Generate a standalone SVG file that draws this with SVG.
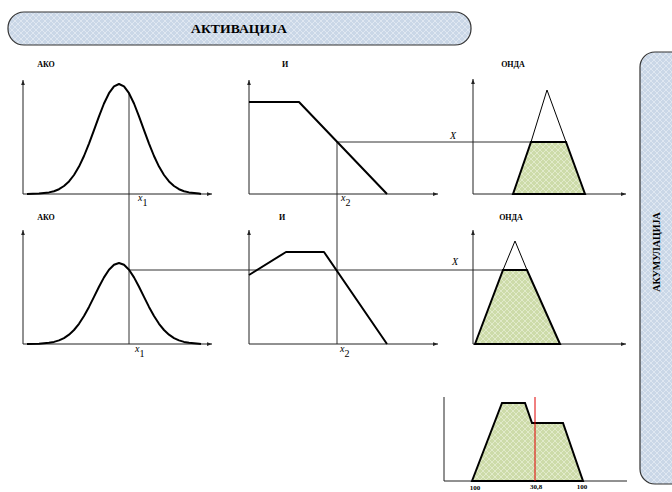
<svg xmlns="http://www.w3.org/2000/svg" width="672" height="492" viewBox="0 0 672 492">
<defs>
<pattern id="hb" width="6" height="6" patternUnits="userSpaceOnUse"><rect width="6" height="6" fill="#cad7e7"/><path d="M0,0 L6,6 M6,0 L0,6" stroke="#e4ebf4" stroke-width="0.8"/></pattern>
<pattern id="hg" width="6" height="6" patternUnits="userSpaceOnUse"><rect width="6" height="6" fill="#cddba9"/><path d="M0,0 L6,6 M6,0 L0,6" stroke="#e6eed3" stroke-width="0.8"/></pattern>
<marker id="ar" viewBox="0 0 8 6" refX="8" refY="3" markerWidth="5" markerHeight="4" orient="auto" markerUnits="userSpaceOnUse"><path d="M0,0 L8,3 L0,6 Z" fill="#222"/></marker>
</defs>
<style>
.ax{fill:none;stroke:#222;stroke-width:1;marker-end:url(#ar)}
.ax2{fill:none;stroke:#222;stroke-width:1}
.cv{fill:none;stroke:#000;stroke-width:2;stroke-linejoin:round}
.tri{fill:none;stroke:#000;stroke-width:1}
.trap{fill:url(#hg);stroke:#000;stroke-width:2;stroke-linejoin:miter}
.cn{fill:none;stroke:#333;stroke-width:1}
.ban{fill:url(#hb);stroke:#333;stroke-width:1.2}
.t{font-family:"Liberation Serif","Times New Roman",serif;font-weight:bold;fill:#000}
.lb{font-size:8px;text-anchor:middle}
.v{font-family:"Liberation Serif","Times New Roman",serif;font-style:italic;font-size:10px;fill:#000}
.s{font-style:normal}
</style>

<g id="activation">
<rect class="ban" x="8" y="12" width="463" height="33" rx="16"/>
<text class="t" x="239" y="33" font-size="11.5" text-anchor="middle" textLength="96" lengthAdjust="spacingAndGlyphs">АКТИВАЦИЈА</text>
</g>

<g id="accumulation">
<rect class="ban" x="640" y="52" width="50" height="432" rx="15"/>
<text class="t" x="656" y="252" font-size="10" text-anchor="middle" dy="0.35em" transform="rotate(-90 656 252)">АКУМУЛАЦИЈА</text>
</g>

<g id="connectors">
<path class="cn" d="M129,93 L129,344"/>
<path class="cn" d="M337,142 L337,344"/>
<path class="cn" d="M337,142 L566,142"/>
<path class="cn" d="M129,270 L527,270"/>
</g>

<g id="ako1">
<text class="t lb" x="46" y="66.5">АКО</text>
<path class="ax" d="M23,194 L23,80"/>
<path class="ax" d="M23,194 L212,194"/>
<polyline class="cv" points="27,194 39,193.6 49,192.4 54,191.2 59,189.2 64,186 69,181.4 74,175 79,166.6 84,156 89,143.6 94,130.1 99,116.3 104,103.5 109,93.2 114,86.4 119,84 124,86.4 129,93.2 134,103.5 139,116.3 144,130.1 149,143.6 154,156 159,166.6 164,175 169,181.4 174,186 179,189.2 184,191.2 189,192.4 199,193.6 201,194"/>
<text class="v" x="138" y="201">x<tspan class="s" dy="5">1</tspan></text>
</g>

<g id="i1">
<text class="t lb" x="285" y="66.5">И</text>
<path class="ax" d="M249,194 L249,80"/>
<path class="ax" d="M249,194 L438,194"/>
<polyline class="cv" points="249,102 299,102 387,194"/>
<text class="v" x="341" y="201">x<tspan class="s" dy="5">2</tspan></text>
</g>

<g id="onda1">
<text class="t lb" x="513" y="66.5">ОНДА</text>
<path class="ax" d="M473,194 L473,79"/>
<path class="ax" d="M473,194 L626,194"/>
<polygon class="trap" points="513,194 531,142 566,142 585,194"/>
<polyline class="tri" points="531,142 547,90 566,142"/>
<text class="v" x="450" y="139">X</text>
</g>

<g id="ako2">
<text class="t lb" x="46" y="220">АКО</text>
<path class="ax" d="M23,344 L23,230"/>
<path class="ax" d="M23,344 L212,344"/>
<polyline class="cv" points="27,344 39,343.7 49,342.8 54,341.9 59,340.4 64,338.1 69,334.7 74,330 79,323.8 84,316 89,306.9 94,296.9 99,286.8 104,277.4 109,269.7 114,264.7 119,263 124,264.7 129,269.7 134,277.4 139,286.8 144,296.9 149,306.9 154,316 159,323.8 164,330 169,334.7 174,338.1 179,340.4 184,341.9 189,342.8 199,343.7 201,344"/>
<text class="v" x="135" y="352">x<tspan class="s" dy="5">1</tspan></text>
</g>

<g id="i2">
<text class="t lb" x="282" y="220">И</text>
<path class="ax" d="M249,344 L249,230"/>
<path class="ax" d="M249,344 L438,344"/>
<polyline class="cv" points="249,275 286,252 324,252 387,344"/>
<text class="v" x="340" y="352">x<tspan class="s" dy="5">2</tspan></text>
</g>

<g id="onda2">
<text class="t lb" x="511" y="220">ОНДА</text>
<path class="ax" d="M473,344 L473,230"/>
<path class="ax" d="M473,344 L626,344"/>
<polygon class="trap" points="475,344 503,270 527,270 560,344"/>
<polyline class="tri" points="503,270 515,241 527,270"/>
<text class="v" x="452" y="265">X</text>
</g>

<g id="result">
<path class="ax2" d="M444,397 L444,481 L627,481"/>
<polygon class="trap" points="472,481 502,403 525,403 532,423 563,423 583,481"/>
<path d="M535,397 L535,481" stroke="#e00000" stroke-width="1" fill="none"/>
<text class="t" x="475" y="490" font-size="7" text-anchor="middle">100</text>
<text class="t" x="536" y="489" font-size="7" text-anchor="middle">30,8</text>
<text class="t" x="582" y="489" font-size="7" text-anchor="middle">100</text>
</g>
</svg>
